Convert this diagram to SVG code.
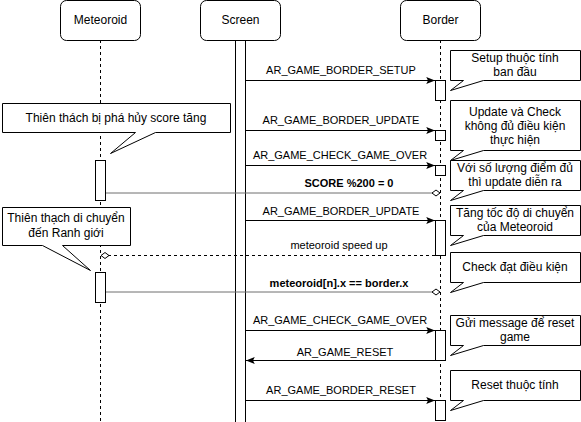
<svg xmlns="http://www.w3.org/2000/svg" width="581" height="422" viewBox="0 0 581 422">
<style>
text{font-family:"Liberation Sans",Arial,Helvetica,sans-serif;fill:#000}
.hd{font-size:12px;text-anchor:middle}
.nt{font-size:12px;text-anchor:middle}
.lb{font-size:11px;text-anchor:middle}
.bd{font-weight:bold}
.box{fill:#fff;stroke:#000;stroke-width:1}
.life{stroke:#000;stroke-width:1;stroke-dasharray:3 3;fill:none}
.act{fill:#fff;stroke:#000;stroke-width:1}
.msg{stroke:#000;stroke-width:1;fill:none}
.gry{stroke:#6e6e6e;stroke-width:1;fill:none}
.dsh{stroke:#000;stroke-width:1;stroke-dasharray:3 3;fill:none}
</style>
<defs>
<marker id="blk" viewBox="0 0 10 8" refX="10" refY="4" markerWidth="9" markerHeight="7" markerUnits="userSpaceOnUse" orient="auto">
<path d="M0,0 L10,4 L0,8 L2,4 Z" fill="#000"/>
</marker>
<marker id="dia" viewBox="-1 -1 10 8" refX="8" refY="3" markerWidth="10" markerHeight="8" markerUnits="userSpaceOnUse" orient="auto">
<path d="M0,3 L4,0 L8,3 L4,6 Z" fill="#fff" stroke="#000" stroke-width="1"/>
</marker>
</defs>
<rect width="581" height="422" fill="#fff"/>

<g id="meteoroid">
<line class="life" x1="100.5" y1="40" x2="100.5" y2="422"/>
<rect class="box" x="60.5" y="0.5" width="80" height="40" rx="6"/>
<text class="hd" x="100.5" y="24">Meteoroid</text>
<rect class="act" x="95.5" y="160.5" width="10" height="40"/>
<rect class="act" x="95.5" y="272.5" width="10" height="30"/>
</g>

<g id="screen">
<rect class="box" x="200.5" y="0.5" width="80" height="40" rx="6"/>
<text class="hd" x="240.5" y="24">Screen</text>
<rect class="act" x="235.5" y="40.5" width="10" height="382"/>
</g>

<g id="border">
<line class="life" x1="440.5" y1="40" x2="440.5" y2="422"/>
<rect class="box" x="400.5" y="0.5" width="80" height="40" rx="6"/>
<text class="hd" x="440.5" y="24">Border</text>
<rect class="act" x="435.5" y="80.5" width="10" height="20"/>
<rect class="act" x="435.5" y="130.5" width="10" height="10"/>
<rect class="act" x="435.5" y="165.5" width="10" height="10"/>
<rect class="act" x="435.5" y="220.5" width="10" height="35"/>
<rect class="act" x="435.5" y="330.5" width="10" height="30"/>
<rect class="act" x="435.5" y="400.5" width="10" height="20"/>
</g>

<g id="note-destroyed">
<path class="box" d="M2.5,103.5 H230.5 V132.5 H155.5 L110.5,153.5 L135.5,132.5 H2.5 Z"/>
<text class="nt" x="116" y="122">Thiên thách bị phá hủy score tăng</text>
</g>

<g id="note-move">
<path class="box" d="M2.5,207.5 H130.5 V245.5 H62.5 L90.5,270.5 L42.5,245.5 H2.5 Z"/>
<text class="nt" x="66" y="222">Thiên thạch di chuyển</text>
<text class="nt" x="66" y="237">đến Ranh giới</text>
</g>

<g id="note-setup">
<path class="box" d="M450.5,50.5 H580.5 V80.5 H483.5 L450.5,90.5 L463.5,80.5 H450.5 Z"/>
<text class="nt" x="515" y="62">Setup thuộc tính</text>
<text class="nt" x="515" y="76">ban đầu</text>
</g>

<g id="note-update">
<path class="box" d="M450.5,100.5 H580.5 V150.5 H483.5 L450.5,160.5 L463.5,150.5 H450.5 Z"/>
<text class="nt" x="515" y="116">Update và Check</text>
<text class="nt" x="515" y="130">không đủ điều kiện</text>
<text class="nt" x="515" y="144">thực hiện</text>
</g>

<g id="note-score">
<path class="box" d="M450.5,160.5 H580.5 V190.5 H483.5 L450.5,200.5 L463.5,190.5 H450.5 Z"/>
<text class="nt" x="515" y="172">Với số lượng điểm đủ</text>
<text class="nt" x="515" y="186">thì update diễn ra</text>
</g>

<g id="note-speed">
<path class="box" d="M450.5,205.5 H580.5 V235.5 H483.5 L450.5,245.5 L463.5,235.5 H450.5 Z"/>
<text class="nt" x="515" y="217">Tăng tốc độ di chuyển</text>
<text class="nt" x="515" y="231">của Meteoroid</text>
</g>

<g id="note-check">
<path class="box" d="M450.5,252.5 H580.5 V282.5 H483.5 L450.5,292.5 L463.5,282.5 H450.5 Z"/>
<text class="nt" x="515" y="271">Check đạt điều kiện</text>
</g>

<g id="note-reset-msg">
<path class="box" d="M450.5,315.5 H580.5 V345.5 H483.5 L450.5,355.5 L463.5,345.5 H450.5 Z"/>
<text class="nt" x="515" y="327">Gửi message để reset</text>
<text class="nt" x="515" y="341">game</text>
</g>

<g id="note-reset">
<path class="box" d="M450.5,370.5 H580.5 V400.5 H483.5 L450.5,410.5 L463.5,400.5 H450.5 Z"/>
<text class="nt" x="515" y="389">Reset thuộc tính</text>
</g>

<g id="connectors">
<line class="msg" x1="246" y1="80.5" x2="435" y2="80.5" marker-end="url(#blk)"/>
<text class="lb" x="341" y="74">AR_GAME_BORDER_SETUP</text>

<line class="msg" x1="246" y1="130.5" x2="435" y2="130.5" marker-end="url(#blk)"/>
<text class="lb" x="341" y="124">AR_GAME_BORDER_UPDATE</text>

<line class="msg" x1="246" y1="165.5" x2="435" y2="165.5" marker-end="url(#blk)"/>
<text class="lb" x="340" y="159">AR_GAME_CHECK_GAME_OVER</text>

<line class="gry" x1="106" y1="193" x2="440" y2="193" marker-end="url(#dia)"/>
<text class="lb bd" x="349" y="187">SCORE %200 = 0</text>

<line class="msg" x1="246" y1="220.5" x2="435" y2="220.5" marker-end="url(#blk)"/>
<text class="lb" x="341" y="215">AR_GAME_BORDER_UPDATE</text>

<line class="dsh" x1="435" y1="255.5" x2="101" y2="255.5" marker-end="url(#dia)"/>
<text class="lb" x="339" y="249">meteoroid speed up</text>

<line class="gry" x1="106" y1="292" x2="440" y2="292" marker-end="url(#dia)"/>
<text class="lb bd" x="339" y="287">meteoroid[n].x == border.x</text>

<line class="msg" x1="246" y1="330.5" x2="435" y2="330.5" marker-end="url(#blk)"/>
<text class="lb" x="340" y="324">AR_GAME_CHECK_GAME_OVER</text>

<line class="msg" x1="435" y1="360.5" x2="246" y2="360.5" marker-end="url(#blk)"/>
<text class="lb" x="345" y="356">AR_GAME_RESET</text>

<line class="msg" x1="246" y1="400.5" x2="435" y2="400.5" marker-end="url(#blk)"/>
<text class="lb" x="341" y="394">AR_GAME_BORDER_RESET</text>
</g>
</svg>
